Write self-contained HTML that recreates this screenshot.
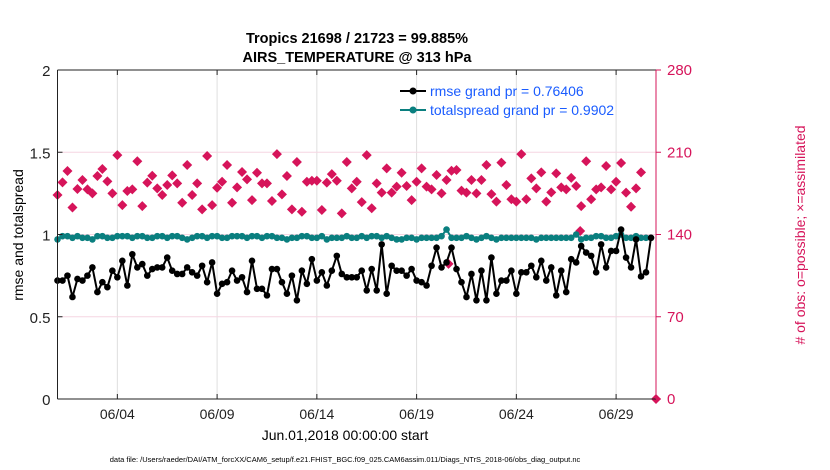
<!DOCTYPE html>
<html><head><meta charset="utf-8"><style>
body{margin:0;background:#fff;width:830px;height:470px;overflow:hidden}
svg{display:block;font-family:"Liberation Sans",sans-serif}
</style></head><body>
<svg id="chart" width="830" height="470">
<text x="357" y="43" text-anchor="middle" font-size="14.5" font-weight="bold">Tropics 21698 / 21723 = 99.885%</text>
<text x="357" y="62" text-anchor="middle" font-size="14.5" font-weight="bold">AIRS_TEMPERATURE @ 313 hPa</text>
<g id="grid"></g>
<g id="series"></g>
<g id="axes"></g>
<text transform="translate(23,235) rotate(-90)" text-anchor="middle" font-size="14">rmse and totalspread</text>
<text transform="translate(805,235) rotate(-90)" text-anchor="middle" font-size="14" fill="#d6145a"># of obs: o=possible; ×=assimilated</text>
<text x="345" y="440" text-anchor="middle" font-size="14">Jun.01,2018 00:00:00 start</text>
<text x="345" y="462" text-anchor="middle" font-size="7.5">data file: /Users/raeder/DAI/ATM_forcXX/CAM6_setup/f.e21.FHIST_BGC.f09_025.CAM6assim.011/Diags_NTrS_2018-06/obs_diag_output.nc</text>
<g>
<line x1="400" y1="91" x2="426" y2="91" stroke="#000" stroke-width="2"/>
<circle cx="413" cy="91" r="3.5" fill="#000"/>
<text x="430" y="96" font-size="14" fill="#1a5cff">rmse grand pr = 0.76406</text>
<line x1="400" y1="110" x2="426" y2="110" stroke="#0a7f7f" stroke-width="2"/>
<circle cx="413" cy="110" r="3.5" fill="#0a7f7f"/>
<text x="430" y="115" font-size="14" fill="#1a5cff">totalspread grand pr = 0.9902</text>
</g>
</svg>
<script>
const rmse=[0.72,0.72,0.75,0.62,0.73,0.72,0.75,0.80,0.65,0.71,0.68,0.78,0.74,0.84,0.69,0.88,0.80,0.82,0.75,0.79,0.80,0.80,0.86,0.78,0.76,0.76,0.80,0.77,0.75,0.81,0.71,0.83,0.64,0.70,0.71,0.78,0.72,0.74,0.65,0.84,0.67,0.67,
0.63,0.79,0.79,0.71,0.64,0.75,0.60,0.78,0.70,0.85,0.72,0.77,0.69,0.78,0.87,0.76,0.74,0.74,0.74,0.78,0.66,0.79,0.66,0.94,0.64,0.81,0.78,0.78,0.75,0.79,0.72,0.71,0.69,0.81,0.92,0.80,0.83,0.92,0.79,0.71,0.62,
0.76,0.60,0.78,0.60,0.86,0.64,0.72,0.72,0.78,0.64,0.77,0.77,0.81,0.74,0.84,0.72,0.80,0.63,0.78,0.65,0.85,0.83,0.93,0.89,0.87,0.77,0.94,0.80,0.90,0.90,1.03,0.86,0.80,0.97,0.745,0.77,0.98];
const spread=[0.97,0.99,0.99,0.98,0.99,0.98,0.98,0.97,0.99,0.99,0.98,0.98,0.99,0.99,0.99,0.98,0.99,0.99,0.98,0.98,0.99,0.99,0.98,0.99,0.99,0.98,0.97,0.98,0.99,0.99,0.98,0.99,0.99,0.98,0.98,0.99,0.99,0.99,0.98,0.99,0.99,0.98,
0.99,0.99,0.98,0.98,0.97,0.98,0.98,0.99,0.99,0.98,0.98,0.99,0.97,0.98,0.98,0.98,0.99,0.98,0.98,0.99,0.98,0.99,0.99,0.98,0.99,0.98,0.97,0.97,0.98,0.98,0.97,0.98,0.98,0.98,0.98,0.99,1.03,0.98,0.98,0.98,0.99,
0.98,0.97,0.98,0.99,0.98,0.97,0.98,0.98,0.98,0.98,0.98,0.98,0.98,0.97,0.98,0.98,0.98,0.98,0.98,0.98,0.98,1.00,0.97,0.98,0.98,0.99,0.99,0.98,0.98,0.99,1.00,0.98,0.98,0.99,0.98,0.98,0.98];
const assimilated=[173.6,184.4,194,163,178.7,186.4,178.4,175,189.8,195.7,185.2,175,207.6,165,177,178.4,202.3,164.2,184.1,190,179.3,173.6,182.1,190.3,183.5,167,199.1,173.6,183.5,161.4,206.8,165,179.8,184.9,199.1,167,180.1,193.2,186.9,169.3,192.6,183.5,
183.5,168.5,208.4,174.2,189.8,161.4,201.7,159.4,184.9,185.7,185.7,160.8,184.1,191.4,185.7,158,201.7,179.3,184.9,167.6,207.6,162.3,183.5,175.6,196.3,175.6,180.7,192.6,181.3,169.3,184.9,196.3,180.7,178.4,190.6,175,186.4,194.3,194.9,177.3,
175.6,186.4,175,186.4,199.1,174.4,168,201.2,182.1,170,168,208.4,170,187.8,179.3,192.9,168,175.9,192,180.1,178.4,188.2,181.3,164.2,202.3,170,178.4,180.1,198.3,178.4,184.9,200.8,175.6,163.6,179.3,192.9];
const extraDay=[19.6,26.2,30];
const extraCount=[115,143,0];
const xTicks=[3,8,13,18,23,28];
const xTickLabels=["06/04","06/09","06/14","06/19","06/24","06/29"];
const leftTicks=[0,0.5,1,1.5,2];
const rightTicks=[0,70,140,210,280];

const X0=57.5,X1=656,Y0=399,Y1=70,NS="http://www.w3.org/2000/svg";
const xs=d=>X0+(X1-X0)*d/30;
const yl=v=>Y0-(Y0-Y1)*v/2;
const yr=v=>Y0-(Y0-Y1)*v/280;
const stepDay=0.25;
function mk(tag,attrs,parent){const e=document.createElementNS(NS,tag);for(const k in attrs)e.setAttribute(k,attrs[k]);parent.appendChild(e);return e;}
const grid=document.getElementById('grid'),ser=document.getElementById('series'),ax=document.getElementById('axes');
xTicks.forEach((d,i)=>{
 const g=mk('line',{x1:xs(d),x2:xs(d),y1:Y1,y2:Y0,stroke:'#dedede','stroke-width':1},grid);
 
 
 mk('line',{x1:xs(d),x2:xs(d),y1:Y0,y2:Y0-5,stroke:'#222'},ax);
 mk('line',{x1:xs(d),x2:xs(d),y1:Y1,y2:Y1+5,stroke:'#222'},ax);
 const t=mk('text',{x:xs(d),y:419,'text-anchor':'middle','font-size':14,fill:'#222'},ax);
 t.textContent=xTickLabels[i];
 
 
});
rightTicks.forEach(v=>{
 if(v>0&&v<280){const g=mk('line',{x1:X0,x2:X1,y1:yr(v),y2:yr(v),stroke:'#f6d6e2','stroke-width':1},grid);
 
 }
 mk('line',{x1:X1,x2:X1+5,y1:yr(v),y2:yr(v),stroke:'#d6145a'},ax);
 const t=mk('text',{x:X1+11,y:yr(v)+5,'font-size':15,fill:'#d6145a'},ax);
 t.textContent=v;
 
 
});
leftTicks.forEach(v=>{
 mk('line',{x1:X0,x2:X0+5,y1:yl(v),y2:yl(v),stroke:'#222'},ax);
 const t=mk('text',{x:X0-7,y:yl(v)+6,'text-anchor':'end','font-size':15,fill:'#222'},ax);
 t.textContent=v;
 
 
});
let a=mk('line',{x1:X0,x2:X1,y1:Y1,y2:Y1,stroke:'#222'},ax);
a=mk('line',{x1:X0,x2:X1,y1:Y0,y2:Y0,stroke:'#222'},ax);


a=mk('line',{x1:X0,x2:X0,y1:Y1,y2:Y0,stroke:'#222'},ax);


a=mk('line',{x1:X1,x2:X1,y1:Y1,y2:Y0,stroke:'#d6145a'},ax);



// assimilated counts (diamond plus)
assimilated.forEach((v,i)=>{
 const x=xs(i*stepDay),y=yr(v);
 const p=mk('path',{d:`M${x} ${y-5}L${x+5} ${y}L${x} ${y+5}L${x-5} ${y}Z`,fill:'#d6145a'},ser);
 
 
});
extraDay.forEach((d,i)=>{
 const x=xs(d),y=yr(extraCount[i]);
 const p=mk('path',{d:`M${x} ${y-5}L${x+5} ${y}L${x} ${y+5}L${x-5} ${y}Z`,fill:'#d6145a'},ser);
 
 
});
function line(vals,color,name){
 const pts=vals.map((v,i)=>xs(i*stepDay)+','+yl(v)).join(' ');
 const pl=mk('polyline',{points:pts,fill:'none',stroke:color,'stroke-width':2},ser);
 
 
 vals.forEach((v,i)=>{
  const c=mk('circle',{cx:xs(i*stepDay),cy:yl(v),r:3.3,fill:color},ser);
  
  
 });
}
line(spread,'#0a7f7f','totalspread');
line(rmse,'#000000','rmse');
</script>
</body></html>
